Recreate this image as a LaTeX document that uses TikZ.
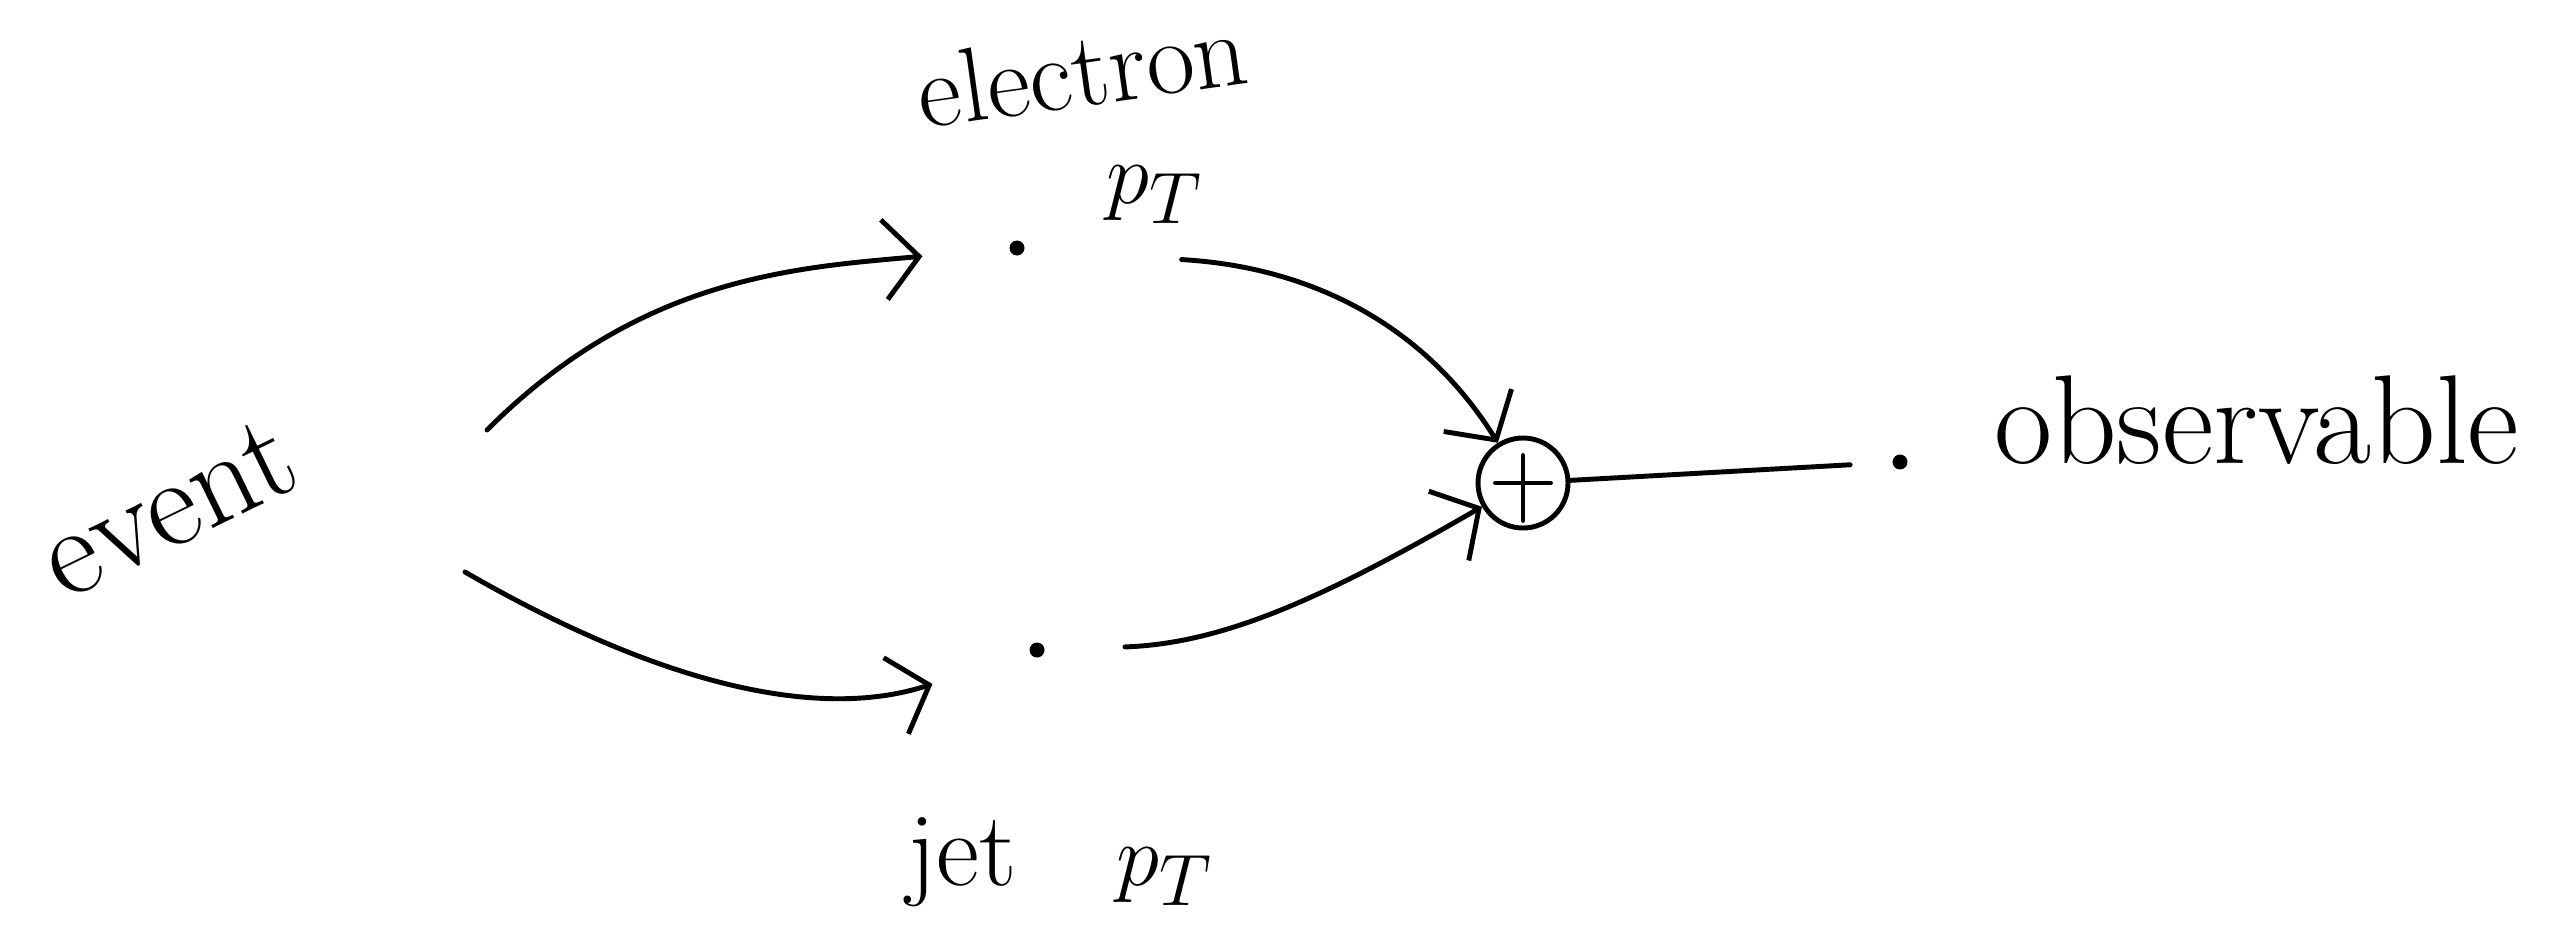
\documentclass[tikz,border=0pt]{standalone}
\usetikzlibrary{arrows.meta,calc,positioning}
\begin{document}
\begin{tikzpicture}[
    line width=1.4pt, line cap=round,
    flow/.style={-{Straight Barb[length=3.5mm,width=8mm]}},
    dot/.style={circle, fill, inner sep=0pt, minimum size=1.5mm},
    lbl/.style={font=\fontsize{30}{34}\selectfont}
  ]
        \useasboundingbox (0, 0) rectangle (25.61, -9.44);
        % quantities
        \node[lbl, font=\fontsize{36}{40}\selectfont, rotate=26] (event) at (1.68, -5.08) {event};
        \node[dot] (elpt) at (10.17, -2.48) {};
        \node[dot] (jetpt) at (10.37, -6.50) {};
        \node[circle, draw, minimum size=9mm, inner sep=0pt] (sum) at (15.23, -4.83) {};
        \draw ([yshift=-2mm]sum.north) -- ([yshift=1mm]sum.south);
        \draw ([xshift=2mm]sum.west) -- ([xshift=-2mm]sum.east);
        \node[dot] (obs) at (19.00, -4.62) {};
        % labels
        \node[lbl, rotate=8] (eltxt) at (10.82, -0.70) {electron};
        \node[lbl] (elsub) at (11.55, -1.95) {$p_T$};
        \node[lbl] (jettxt) at (10.60, -8.62) {jet\hspace{1cm}$p_T$};
        \node[lbl, font=\fontsize{36}{40}\selectfont, anchor=base west] (obstxt) at (19.80, -4.63) {observable};
        % connectors
        \coordinate (evup) at ($(event) + (3.19, 0.78)$);
        \coordinate (evdn) at ($(event) + (2.97, -0.64)$);
        \draw[flow, shorten >=0.85cm] (evup) to[out=45, in=185] (elpt);
        \draw[flow, shorten >=1cm] (evdn) to[out=-30, in=198] (jetpt);
        \draw[flow, shorten <=1.55cm] (elpt) to[out=-4, in=122] (sum);
        \draw[flow, shorten <=0.78cm] (jetpt) to[out=2, in=210] (sum);
        \draw[shorten >=0.4cm] (sum) -- (obs);
\end{tikzpicture}
\end{document}
